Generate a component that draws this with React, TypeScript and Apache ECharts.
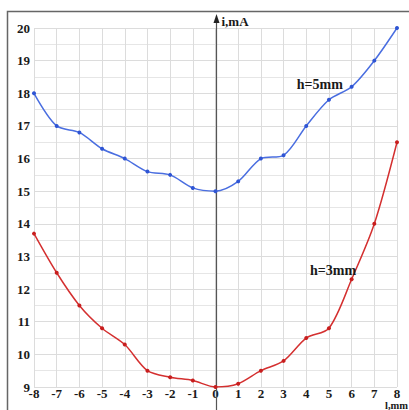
import React, { useEffect, useRef } from "react";
import * as echarts from "echarts";

const xValues = [-8, -7, -6, -5, -4, -3, -2, -1, 0, 1, 2, 3, 4, 5, 6, 7, 8];
const h5Values = [18, 17, 16.8, 16.3, 16, 15.6, 15.5, 15.1, 15, 15.3, 16, 16.1, 17, 17.8, 18.2, 19, 20];
const h3Values = [13.7, 12.5, 11.5, 10.8, 10.3, 9.5, 9.3, 9.2, 9.0, 9.1, 9.5, 9.8, 10.5, 10.8, 12.3, 14, 16.5];
const seriesNames = ["h=5mm", "h=3mm"];
const xAxisName = "l,mm";
const yAxisName = "i,mA";

const FONT = "'Liberation Serif', 'Times New Roman', serif";

export default function App() {
  const ref = useRef<HTMLDivElement>(null);
  useEffect(() => {
    if (!ref.current) return;
    const chart = echarts.init(ref.current, null, { renderer: "svg" });
    const labelStyle = { fontFamily: FONT, fontWeight: "bold" as const, fontSize: 13, color: "#1a1a1a" };
    chart.setOption({
      animation: false,
      backgroundColor: "#ffffff",
      grid: { left: 34, right: 12, top: 28, bottom: 23 },
      xAxis: {
        type: "value",
        min: -8,
        max: 8,
        interval: 1,
        axisLine: { show: false },
        axisTick: { show: false },
        axisLabel: { ...labelStyle, margin: 0, lineHeight: 13 },
        splitLine: { show: true, lineStyle: { color: "#dcdcdc", width: 1 } },
      },
      yAxis: {
        type: "value",
        min: 9,
        max: 20,
        interval: 1,
        axisLine: { show: false },
        axisTick: { show: false },
        axisLabel: { ...labelStyle, margin: 4 },
        splitLine: { show: true, lineStyle: { color: "#dcdcdc", width: 1 } },
        minorTick: { show: false, splitNumber: 2 },
        minorSplitLine: { show: true, lineStyle: { color: "#e6e6e6", width: 1 } },
      },
      series: [
        {
          name: seriesNames[0],
          type: "line",
          data: xValues.map((x, i) => [x, h5Values[i]]),
          smooth: 0.3,
          symbol: "circle",
          symbolSize: 4,
          lineStyle: { color: "#4a6ee0", width: 1.5 },
          itemStyle: { color: "#2f55d4" },
          z: 5,
        },
        {
          name: seriesNames[1],
          type: "line",
          data: xValues.map((x, i) => [x, h3Values[i]]),
          smooth: 0.3,
          symbol: "circle",
          symbolSize: 4,
          lineStyle: { color: "#d43030", width: 1.5 },
          itemStyle: { color: "#c81e1e" },
          z: 5,
        },
      ],
    });

    const p0 = chart.convertToPixel({ gridIndex: 0 }, [0, 20]) as number[];
    const l5 = chart.convertToPixel({ gridIndex: 0 }, [4.6, 18.28]) as number[];
    const l3 = chart.convertToPixel({ gridIndex: 0 }, [5.18, 12.56]) as number[];
    const x0 = Math.round(p0[0]) + 0.5;
    const textStyle = { fontFamily: FONT, fontWeight: "bold", fontSize: 14, fill: "#1a1a1a" };
    chart.setOption({
      graphic: [
        {
          type: "rect",
          shape: { x: 7.5, y: 11.5, width: 440, height: 440 },
          style: { fill: "none", stroke: "#666", lineWidth: 1.5 },
          silent: true,
          z: 0,
        },
        {
          type: "line",
          shape: { x1: x0, y1: 20, x2: x0, y2: 410 },
          style: { stroke: "#555", lineWidth: 1.2 },
          z: 3,
        },
        {
          type: "polygon",
          shape: { points: [[x0, 14], [x0 - 3, 23], [x0 + 3, 23]] },
          style: { fill: "#222" },
          z: 3,
        },
        {
          type: "text",
          x: x0 + 5,
          y: 15,
          style: { ...textStyle, fontSize: 13, text: yAxisName },
          z: 10,
        },
        {
          type: "text",
          x: 385,
          y: 400,
          style: { ...textStyle, fontSize: 10.5, text: xAxisName },
          z: 10,
        },
        {
          type: "text",
          x: l5[0],
          y: l5[1],
          style: { ...textStyle, text: seriesNames[0], align: "center", verticalAlign: "middle" },
          z: 10,
        },
        {
          type: "text",
          x: l3[0],
          y: l3[1],
          style: { ...textStyle, text: seriesNames[1], align: "center", verticalAlign: "middle" },
          z: 10,
        },
      ],
    });
    return () => chart.dispose();
  }, []);
  return <div ref={ref} style={{ position: "fixed", left: 0, top: 0, width: 409, height: 410 }} />;
}
